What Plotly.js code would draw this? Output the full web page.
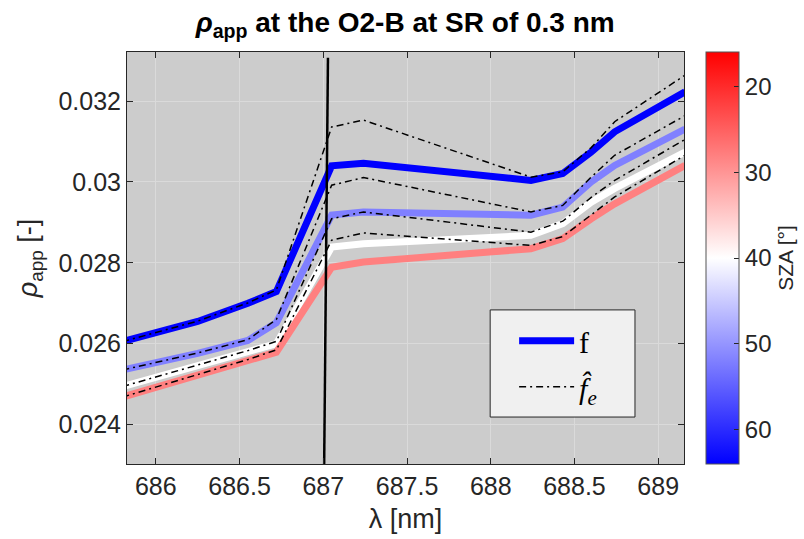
<!DOCTYPE html>
<html>
<head>
<meta charset="utf-8">
<script src="https://cdn.plot.ly/plotly-3.0.1.min.js"></script>
<style>html,body{margin:0;padding:0;background:#fff;}#plot{width:804px;height:539px;}</style>
</head>
<body>
<div id="plot"></div>
<script>
// wavelength samples [nm]
const wl = [685.8, 686.25, 686.55, 686.72, 687.05, 687.24, 688.24, 688.43, 688.6, 688.74, 689.16];
// SZA of each curve [deg]
const sza = [64, 52, 40, 28];
// measured f (solid)
const f64 = [0.02605, 0.02655, 0.02700, 0.02729, 0.03040, 0.03046, 0.03004, 0.03021, 0.03074, 0.03124, 0.03223];
const f52 = [0.02535, 0.02576, 0.02608, 0.02652, 0.02918, 0.02926, 0.02918, 0.02938, 0.03000, 0.03041, 0.03131];
const f40 = [0.02494, 0.02547, 0.02581, 0.02600, 0.02839, 0.02847, 0.02868, 0.02897, 0.02950, 0.02984, 0.03074];
const f28 = [0.02468, 0.02522, 0.02559, 0.02579, 0.02789, 0.02802, 0.02835, 0.02860, 0.02909, 0.02946, 0.03041];
// estimated f_e (dash-dot)
const fe64 = [0.02605, 0.02656, 0.02701, 0.02733, 0.03136, 0.03153, 0.03012, 0.03025, 0.03085, 0.03149, 0.03264];
const fe52 = [0.02535, 0.02577, 0.02610, 0.02660, 0.02992, 0.03011, 0.02926, 0.02942, 0.03012, 0.03066, 0.03164];
const fe40 = [0.02494, 0.02548, 0.02583, 0.02606, 0.02909, 0.02926, 0.02876, 0.02903, 0.02962, 0.03004, 0.03105];
const fe28 = [0.02468, 0.02523, 0.02561, 0.02585, 0.02856, 0.02874, 0.02843, 0.02865, 0.02918, 0.02963, 0.03066];
// vertical marker line
const vlineX = [687.005, 687.028];
const vlineY = [0.0229, 0.03307];
// colorbar
const szaMin = 16, szaMax = 64;
const cbTicks = [20, 30, 40, 50, 60];
const xTicks = [686, 686.5, 687, 687.5, 688, 688.5, 689];
const yTicks = [0.024, 0.026, 0.028, 0.030, 0.032];
const yTickText = ['0.024', '0.026', '0.028', '0.03', '0.032'];

const fSeries = [f64, f52, f40, f28];
const feSeries = [fe64, fe52, fe40, fe28];

function szaColor(s) {
  // red (min) -> white (mid) -> blue (max)
  const mid = (szaMin + szaMax) / 2;
  let r, g, b;
  if (s <= mid) {
    const t = (s - szaMin) / (mid - szaMin);
    r = 255; g = Math.round(255 * t); b = Math.round(255 * t);
  } else {
    const t = (s - mid) / (szaMax - mid);
    r = Math.round(255 * (1 - t)); g = Math.round(255 * (1 - t)); b = 255;
  }
  return `rgb(${r},${g},${b})`;
}

const FONT = 'Liberation Sans, Arial';
const traces = [];
fSeries.forEach((ys, i) => {
  traces.push({
    x: wl, y: ys, type: 'scatter', mode: 'lines',
    line: {color: szaColor(sza[i]), width: 7},
    name: 'f', showlegend: i === 0, legendgroup: 'a', hoverinfo: 'skip'
  });
});
feSeries.forEach((ys, i) => {
  traces.push({
    x: wl, y: ys, type: 'scatter', mode: 'lines',
    line: {color: '#000', width: 1.5, dash: '7px,4px,2px,4px'},
    name: '<i>f\u0302</i><sub><i>e</i></sub>', showlegend: i === 0, legendgroup: 'b', hoverinfo: 'skip'
  });
});
traces.push({
  x: vlineX, y: vlineY, type: 'scatter', mode: 'lines',
  line: {color: '#000', width: 2.5}, showlegend: false, hoverinfo: 'skip'
});
// colorbar carrier
traces.push({
  x: [wl[0]], y: [f64[0]], type: 'scatter', mode: 'markers',
  marker: {
    size: 0.1, opacity: 0,
    color: [-sza[0]],
    cmin: -szaMax, cmax: -szaMin,
    colorscale: [[0, 'rgb(0,0,255)'], [0.5, 'rgb(255,255,255)'], [1, 'rgb(255,0,0)']],
    showscale: true,
    colorbar: {
      x: 1.0395, xanchor: 'left', xpad: 0, ypad: 0,
      y: 0.5, yanchor: 'middle', len: 1, lenmode: 'fraction',
      thickness: 33, outlinecolor: '#555', outlinewidth: 1,
      tickvals: cbTicks.map(v => -v), ticktext: cbTicks.map(String),
      ticks: 'inside', ticklen: 5, tickcolor: '#262626',
      tickfont: {family: FONT, size: 24, color: '#262626'},
      title: {text: 'SZA [°]', side: 'right', font: {family: FONT, size: 21, color: '#262626'}}
    }
  },
  showlegend: false, hoverinfo: 'skip'
});

const layout = {
  width: 804, height: 539,
  margin: {l: 127, r: 120, t: 52, b: 75, autoexpand: false},
  paper_bgcolor: '#ffffff', plot_bgcolor: '#cccccc',
  title: {
    text: '<b><i>ρ</i><sub>app</sub> at the O2-B at SR of 0.3 nm</b>',
    font: {family: FONT, size: 28, color: '#000'},
    x: 0.504, xanchor: 'center', y: 0.958, yanchor: 'middle', yref: 'container'
  },
  xaxis: {
    range: [685.828, 689.154], tickvals: xTicks, ticktext: xTicks.map(String),
    ticks: 'inside', ticklen: 6, tickcolor: '#262626',
    showline: true, linecolor: '#262626', linewidth: 1, mirror: 'ticks',
    showgrid: true, gridcolor: '#dadada', gridwidth: 1, zeroline: false,
    tickfont: {family: FONT, size: 25, color: '#262626'},
    title: {text: 'λ [nm]', font: {family: FONT, size: 27, color: '#262626'}, standoff: 10}
  },
  yaxis: {
    range: [0.023026, 0.033214], tickvals: yTicks, ticktext: yTickText,
    ticks: 'inside', ticklen: 6, tickcolor: '#262626',
    showline: true, linecolor: '#262626', linewidth: 1, mirror: 'ticks',
    showgrid: true, gridcolor: '#dadada', gridwidth: 1, zeroline: false,
    tickfont: {family: FONT, size: 25, color: '#262626'},
    title: {text: '<i>ρ</i><sub>app</sub> [-]', font: {family: FONT, size: 27, color: '#262626'}, standoff: 12}
  },
  shapes: [{
    type: 'rect', xref: 'paper', yref: 'paper',
    x0: 0.652, x1: 0.912, y0: 0.114, y1: 0.374,
    fillcolor: '#f0f0f0', line: {color: '#262626', width: 1}, layer: 'above'
  }],
  legend: {
    x: 0.695, y: 0.362, xanchor: 'left', yanchor: 'top',
    bgcolor: 'rgba(0,0,0,0)', borderwidth: 0,
    font: {family: 'Liberation Serif, Times New Roman', size: 30, color: '#000'},
    itemwidth: 55, tracegroupgap: 4
  },
  showlegend: true
};

Plotly.newPlot('plot', traces, layout, {staticPlot: true, displayModeBar: false});
</script>
</body>
</html>
